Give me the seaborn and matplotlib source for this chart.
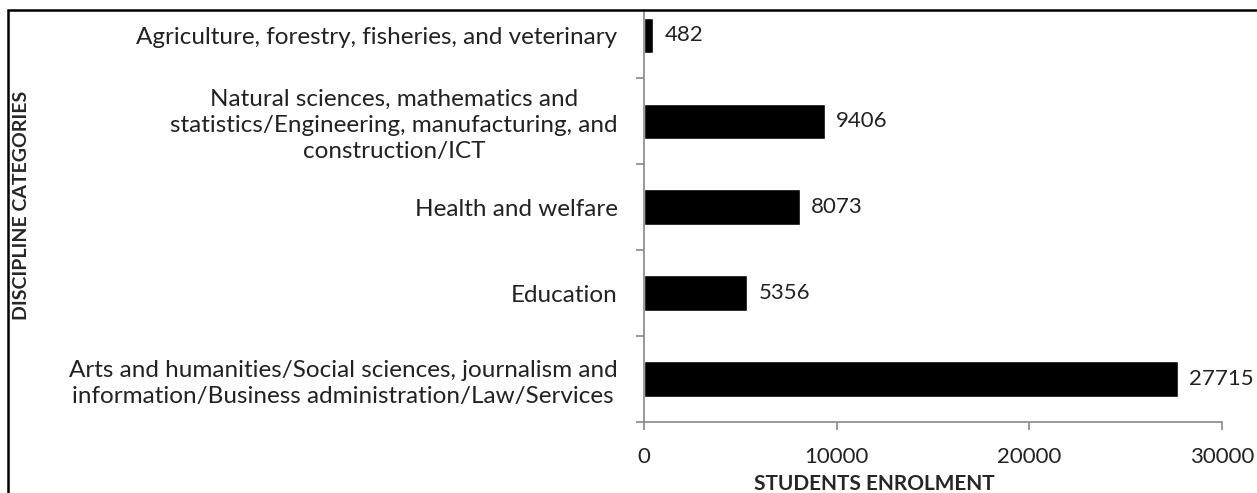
import numpy as np
import pandas as pd
import seaborn as sns
import matplotlib.pyplot as plt
from matplotlib.patches import Rectangle
from matplotlib.ticker import FixedLocator

categories = [
    "Agriculture, forestry, fisheries, and veterinary",
    "Natural sciences, mathematics and\nstatistics/Engineering, manufacturing, and\nconstruction/ICT",
    "Health and welfare",
    "Education",
    "Arts and humanities/Social sciences, journalism and\ninformation/Business administration/Law/Services",
]
enrolment = [482, 9406, 8073, 5356, 27715]

df = pd.DataFrame({"category": categories, "students": enrolment})

sns.set_style("white")
plt.rcParams["font.family"] = ["Lato", "DejaVu Sans"]

fig = plt.figure(figsize=(12.57, 4.93), dpi=100)
ax = fig.add_axes([644 / 1257, 1 - 422 / 493, (1222 - 644) / 1257, (422 - 12) / 493])

sns.barplot(data=df, x="students", y="category", orient="h", color="black",
            width=0.41, saturation=1, ax=ax)

ax.bar_label(ax.containers[0], padding=8, fontsize=16, color="#222222")

ax.set_xlim(0, 30000)
ax.set_ylim(4.5, -0.27)
ax.set_xticks([0, 10000, 20000, 30000])
ax.set_xticklabels(["0", "10000", "20000", "30000"])
ax.tick_params(axis="x", labelsize=16, colors="#222222", length=6, width=1.2,
               color="#888888", direction="out", pad=12, bottom=True)
ax.tick_params(axis="y", which="major", length=0, labelsize=17.5, colors="#222222", pad=19)
ax.yaxis.set_minor_locator(FixedLocator(np.arange(-0.5, 5, 1)))
ax.tick_params(axis="y", which="minor", length=6, width=1.2, color="#888888",
               direction="out", left=True)
for lab in ax.get_yticklabels():
    lab.set_multialignment("center")
    lab.set_linespacing(1.3)

for s in ["top", "right"]:
    ax.spines[s].set_visible(False)
for s in ["left", "bottom"]:
    ax.spines[s].set_color("#888888")
    ax.spines[s].set_linewidth(1.2)

ax.set_xlabel("STUDENTS ENROLMENT", fontsize=15, fontweight="bold")
ax.xaxis.set_label_coords((874 - 644) / 578, -0.128)
ax.set_ylabel("")
fig.text(22 / 1257, 1 - 205 / 493, "DISCIPLINE CATEGORIES", rotation=90, fontsize=14,
         fontweight="bold", ha="center", va="center")

fig.patches.append(Rectangle((8 / 1257, -0.1), 1.2, 0.1 + 1 - 10 / 493,
                             transform=fig.transFigure, fill=False,
                             edgecolor="black", linewidth=1.8))

fig.savefig("out.png", dpi=100)
